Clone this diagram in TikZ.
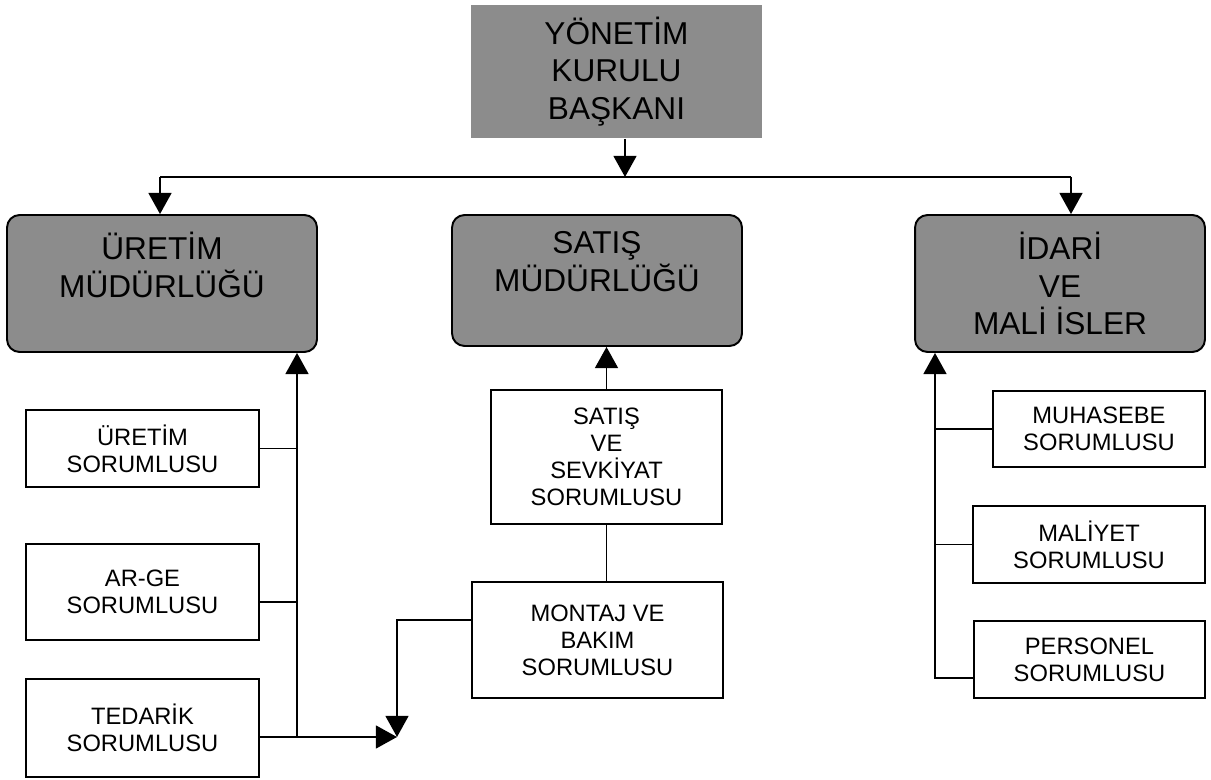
\documentclass[tikz,border=0pt]{standalone}
\usepackage{fontspec}
\setmainfont{Liberation Sans}
\usetikzlibrary{arrows.meta}

\begin{document}
\begin{tikzpicture}[x=0.02cm, y=-0.02cm, line width=1.1pt,
    baskan/.style={fill=black!45, minimum width=5.82cm, minimum height=2.66cm, align=center, font=\fontsize{18}{21.5}\selectfont},
    mudur/.style={draw, fill=black!45, rounded corners=0.25cm, minimum width=5.8cm, minimum height=2.74cm, align=center, font=\fontsize{18}{21.5}\selectfont},
    sorumlu/.style={draw, fill=white, minimum width=4.66cm, minimum height=1.54cm, align=center, font=\fontsize{13.5}{15.3}\selectfont},
    ok/.style={-{Triangle[width=13pt,length=12pt]}}]
  \useasboundingbox (0,0) rectangle (1211,780);

  \node[baskan] (ykb) at (616.5,71.5) {YÖNETİM\\KURULU\\BAŞKANI};
  \node[mudur, minimum width=6.2cm] (uretim) at (162,283.5) {ÜRETİM\\MÜDÜRLÜĞÜ\\~};
  \node[mudur, minimum height=2.62cm] (satis) at (597,280.5) {SATIŞ\\MÜDÜRLÜĞÜ\\~};
  \node[mudur] (idari) at (1060,283.5) {İDARİ\\VE\\MALİ İSLER};

  \node[sorumlu] (us) at (142.5,448.5) {ÜRETİM\\SORUMLUSU};
  \node[sorumlu, minimum height=1.92cm] (arge) at (142.5,592) {AR-GE\\SORUMLUSU};
  \node[sorumlu, minimum height=1.96cm] (ted) at (142.5,728) {TEDARİK\\SORUMLUSU};

  \node[sorumlu, minimum width=4.62cm, minimum height=2.68cm] (sevk) at (606.5,457) {SATIŞ\\VE\\SEVKİYAT\\SORUMLUSU};
  \node[sorumlu, minimum width=5.02cm, minimum height=2.32cm] (montaj) at (597.5,640) {MONTAJ VE\\BAKIM\\SORUMLUSU};

  \node[sorumlu, minimum width=4.24cm, minimum height=1.52cm] (muh) at (1099,429) {MUHASEBE\\SORUMLUSU};
  \node[sorumlu, minimum width=4.64cm] (mal) at (1089,544.5) {MALİYET\\SORUMLUSU};
  \node[sorumlu, minimum width=4.62cm] (pers) at (1089.5,659.5) {PERSONEL\\SORUMLUSU};

  \coordinate (busL) at (160,177);
  \coordinate (busR) at (1071,177);
  \coordinate (ltrunk) at (297,737);
  \coordinate (meet) at (397,737);
  \coordinate (rtrunk) at (935,678);

  % baskan -> mudurlukler
  \draw[ok] ([xshift=0.17cm]ykb.south) -- ([xshift=0.17cm]ykb.south |- busL);
  \draw (busL) -- (busR);
  \draw[ok] (busL) -- (busL |- uretim.north);
  \draw[ok] (busR) -- (busR |- idari.north);

  % uretim
  \draw[ok] (ltrunk) -- (ltrunk |- uretim.south);
  \draw (us.east) -- (us.east -| ltrunk);
  \draw ([yshift=-0.2cm]arge.east) -- ([yshift=-0.2cm]arge.east -| ltrunk);
  \draw[ok] ([yshift=-0.18cm]ted.east) -- (meet);
  \draw[ok] ([yshift=0.4cm]montaj.west) -| (meet);

  % satis
  \draw[ok] (sevk.north) -- (sevk.north |- satis.south);
  \draw (sevk.south) -- (sevk.south |- montaj.north);

  % idari
  \draw[ok] ([yshift=-0.37cm]pers.west) -- (rtrunk) -- (rtrunk |- idari.south);
  \draw (muh.west) -- (muh.west -| rtrunk);
  \draw (mal.west) -- (mal.west -| rtrunk);
\end{tikzpicture}
\end{document}
